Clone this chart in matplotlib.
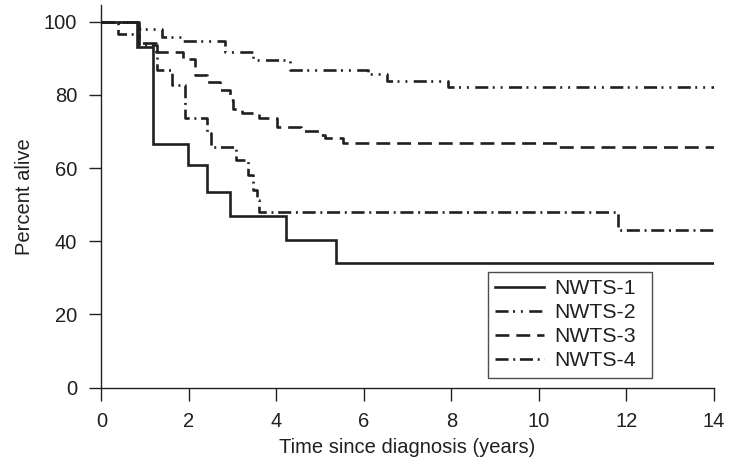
import matplotlib
matplotlib.use("Agg")
import matplotlib.pyplot as plt

plt.rcParams['font.family'] = ['Liberation Sans', 'DejaVu Sans']
plt.rcParams['lines.scale_dashes'] = False

INK = '#231f20'

# Kaplan-Meier survival by study (time in years, percent alive)
nwts1_t = [0, 0.81, 1.17, 1.99, 2.42, 2.94, 4.22, 5.37, 14]
nwts1_s = [100, 93.0, 66.6, 60.7, 53.4, 47.0, 40.4, 34.0, 34.0]

nwts2_t = [0, 0.85, 1.38, 1.87, 2.83, 3.47, 4.31, 6.10, 6.53, 7.93, 14]
nwts2_s = [100, 98.1, 95.9, 94.6, 91.7, 89.6, 86.7, 85.7, 83.8, 82.1, 82.1]

nwts3_t = [0, 0.85, 1.25, 1.87, 2.14, 2.42, 2.71, 2.95, 3.02, 3.22, 3.60,
           4.01, 4.57, 4.98, 5.12, 5.53, 10.41, 14]
nwts3_s = [100, 94.1, 91.6, 89.7, 85.4, 83.5, 81.3, 78.6, 76.1, 75.0, 73.8,
           71.1, 70.1, 69.0, 68.1, 66.8, 65.8, 65.8]

nwts4_t = [0, 0.37, 0.85, 1.28, 1.62, 1.91, 2.42, 2.50, 3.07, 3.35, 3.47,
           3.55, 3.60, 11.82, 14]
nwts4_s = [100, 96.7, 93.6, 86.8, 82.8, 73.6, 69.6, 65.8, 62.2, 58.1, 54.0,
           51.3, 48.1, 43.1, 43.1]

labels = ['NWTS-1', 'NWTS-2', 'NWTS-3', 'NWTS-4']
x_ticks = [0, 2, 4, 6, 8, 10, 12, 14]
y_ticks = [0, 20, 40, 60, 80, 100]

series = [(nwts1_t, nwts1_s), (nwts2_t, nwts2_s), (nwts3_t, nwts3_s), (nwts4_t, nwts4_s)]
styles = [
    '-',
    (0, (9.4, 3.2, 1.4, 4.3, 1.4, 4.6)),
    (0, (10.0, 5.0)),
    (0, (9.4, 3.4, 1.4, 3.4)),
]

fig = plt.figure(figsize=(7.3, 4.65), dpi=100)
ax = fig.add_axes([0.1388, 0.1662, 0.8389, 0.8228])

for (t, s), ls, lab in zip(series, styles, labels):
    ax.step(t, s, where='post', color=INK, lw=1.9, linestyle=ls, label=lab,
            solid_joinstyle='miter', dash_capstyle='butt')

ax.set_xlim(0, 14)
ax.set_ylim(0, 104.5)
ax.set_xticks(x_ticks)
ax.set_yticks(y_ticks)
for side in ('top', 'right'):
    ax.spines[side].set_visible(False)
for side in ('left', 'bottom'):
    ax.spines[side].set_color(INK)
    ax.spines[side].set_linewidth(1.0)
ax.tick_params(axis='both', length=9, width=1.0, color=INK, pad=8.5,
               labelsize=14.5, labelcolor=INK)

ax.set_xlabel('Time since diagnosis (years)', fontsize=14.5, color=INK, labelpad=5.0)
ax.set_ylabel('Percent alive', fontsize=14.5, color=INK, labelpad=6.7)

leg = ax.legend(loc='lower left', bbox_to_anchor=(0.6314, 0.026, 0.2683, 0.0),
                mode='expand', borderaxespad=0,
                fontsize=15.3, frameon=True, fancybox=False, handlelength=2.3,
                handletextpad=0.47, labelspacing=0.24, borderpad=0.35)
leg.get_frame().set_edgecolor(INK)
leg.get_frame().set_linewidth(1.0)
for txt in leg.get_texts():
    txt.set_color(INK)

fig.savefig('out.png', dpi=100)
